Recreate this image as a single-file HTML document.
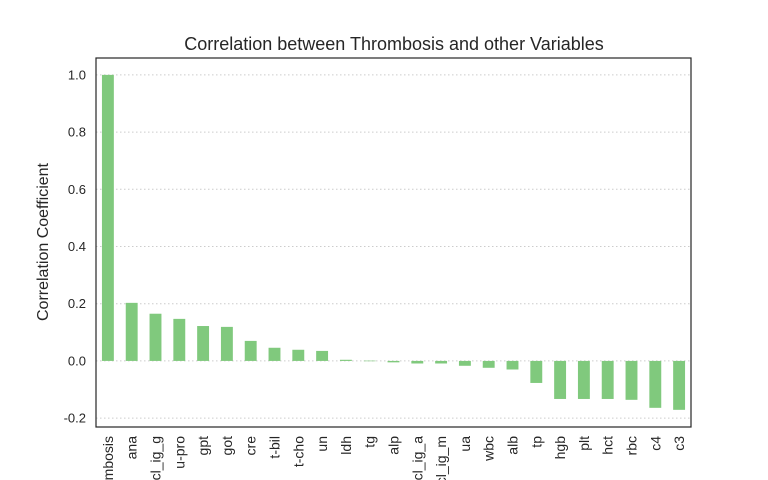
<!DOCTYPE html>
<html><head><meta charset="utf-8"><style>
html,body{margin:0;padding:0;background:#fff;}
svg{display:block;font-family:"Liberation Sans","DejaVu Sans",sans-serif;}
</style></head><body>
<svg id="chart" width="768" height="480">
<text x="394" y="50" text-anchor="middle" font-size="18" fill="#262626">Correlation between Thrombosis and other Variables</text>
<text transform="translate(48,242) rotate(-90)" text-anchor="middle" font-size="16" fill="#262626">Correlation Coefficient</text>
<g id="grid"></g><g id="bars"></g><g id="yticks"></g><g id="xticks"></g>
<rect x="96" y="58" width="595" height="369" fill="none" stroke="#262626" stroke-width="1.2"/>
</svg>
<script>
const categories=["thrombosis","ana","acl_ig_g","u-pro","gpt","got","cre","t-bil","t-cho","un","ldh","tg","alp","acl_ig_a","acl_ig_m","ua","wbc","alb","tp","hgb","plt","hct","rbc","c4","c3"];
const values=[1.0,0.203,0.165,0.147,0.122,0.119,0.07,0.046,0.039,0.035,0.004,0.001,-0.005,-0.009,-0.009,-0.017,-0.024,-0.03,-0.077,-0.133,-0.133,-0.133,-0.136,-0.164,-0.171];
const yTicks=[-0.2,0.0,0.2,0.4,0.6,0.8,1.0];
const ns="http://www.w3.org/2000/svg";
const L=96,R=691,T=58,B=427,ymin=-0.231,ymax=1.059;
const y=v=>B-(v-ymin)/(ymax-ymin)*(B-T);
const step=(R-L)/categories.length;
const x=i=>L+step*(i+0.5);
function mk(tag,attrs,parent){const e=document.createElementNS(ns,tag);for(const k in attrs)e.setAttribute(k,attrs[k]);document.getElementById(parent).appendChild(e);return e;}
yTicks.forEach(t=>{
  const g=mk("line",{x1:L,x2:R,y1:y(t),y2:y(t),stroke:"#cccccc","stroke-width":1,"stroke-dasharray":"1.5,2.5"},"grid");
  
  
  const tx=mk("text",{x:L-10,y:y(t)+4.5,"text-anchor":"end","font-size":13,fill:"#262626"},"yticks");
  tx.textContent=t.toFixed(1);
  
  
});
categories.forEach((c,i)=>{
  const v=values[i],w=step*0.5;
  const r=mk("rect",{x:x(i)-w/2,y:Math.min(y(v),y(0)),width:w,height:Math.max(Math.abs(y(v)-y(0)),0.6),fill:"#80c97d"},"bars");
  
  
  const tx=mk("text",{transform:`translate(${x(i)+5},${B+9}) rotate(-90)`,"text-anchor":"end","font-size":14,fill:"#262626"},"xticks");
  tx.textContent=c;
  
  
});
</script>
</body></html>
